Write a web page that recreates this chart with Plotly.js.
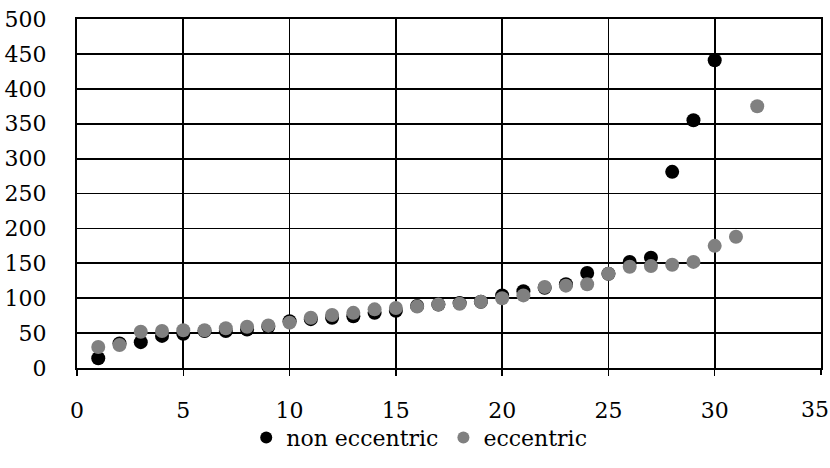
<!DOCTYPE html>
<html>
<head>
<meta charset="utf-8">
<script src="https://cdn.plot.ly/plotly-3.0.1.min.js"></script>
<style>html,body{margin:0;padding:0;background:#fff;}#chart{width:830px;height:468px;}</style>
</head>
<body>
<div id="chart"></div>
<script>
var nonEccentricX = [1,2,3,4,5,6,7,8,9,10,11,12,13,14,15,16,17,18,19,20,21,22,23,24,25,26,27,28,29,30];
var nonEccentricY = [14,35,37,46,49,53,53,55,59,67,70,72,74,79,82,89,91,93,95,104,110,115,120,136,135,152,158,281,355,441];
var eccentricX = [1,2,3,4,5,6,7,8,9,10,11,12,13,14,15,16,17,18,19,20,21,22,23,24,25,26,27,28,29,30,31,32];
var eccentricY = [30,33,52,53,54,54,57,59,61,65,72,76,79,84,86,88,91,92,95,100,104,116,118,120,135,145,146,148,152,175,188,375];
var seriesNames = ["non eccentric", "eccentric"];
var xTickVals = [0,5,10,15,20,25,30];
var xLastTick = [35];
var xRange = [0, 35];
var yRange = [0, 500];

var font = {family: "DejaVu Serif", size: 22, color: "#000"};

var traces = [
  {x: nonEccentricX, y: nonEccentricY, name: seriesNames[0], type: "scatter", mode: "markers",
   marker: {color: "#000000", size: 14}},
  {x: eccentricX, y: eccentricY, name: seriesNames[1], type: "scatter", mode: "markers",
   marker: {color: "#808080", size: 14}},
  {x: [], y: [], type: "scatter", mode: "markers", xaxis: "x2", yaxis: "y", showlegend: false, hoverinfo: "skip"}
];

var commonX = {
  range: xRange, zeroline: false, ticks: "outside", ticklen: 6, tickcolor: "#000", tickwidth: 1.5,
  ticklabelstandoff: 16, tickfont: font, fixedrange: true, tickmode: "array"
};

var layout = {
  width: 830, height: 468,
  margin: {l: 77, r: 9, t: 19, b: 95},
  paper_bgcolor: "#fff", plot_bgcolor: "#fff",
  font: font,
  showlegend: true,
  legend: {orientation: "h", x: 0.46, xanchor: "center", y: -0.2, yanchor: "middle",
           font: font, itemsizing: "constant", bgcolor: "rgba(0,0,0,0)"},
  xaxis: Object.assign({}, commonX, {tickvals: xTickVals,
          showgrid: true, gridcolor: "#000", gridwidth: 1.8,
          showline: true, linecolor: "#000", linewidth: 2, mirror: true}),
  xaxis2: Object.assign({}, commonX, {tickvals: xLastTick, overlaying: "x", anchor: "y", side: "bottom",
          showgrid: false, showline: false, ticklabelshift: -6}),
  yaxis: {range: yRange, dtick: 50, tick0: 0, showgrid: true, gridcolor: "#000", gridwidth: 1.8,
          zeroline: false, showline: true, linecolor: "#000", linewidth: 2, mirror: true,
          ticks: "", ticklabelstandoff: 24, tickfont: font, fixedrange: true}
};

Plotly.newPlot("chart", traces, layout, {displayModeBar: false, staticPlot: true});
</script>
</body>
</html>
